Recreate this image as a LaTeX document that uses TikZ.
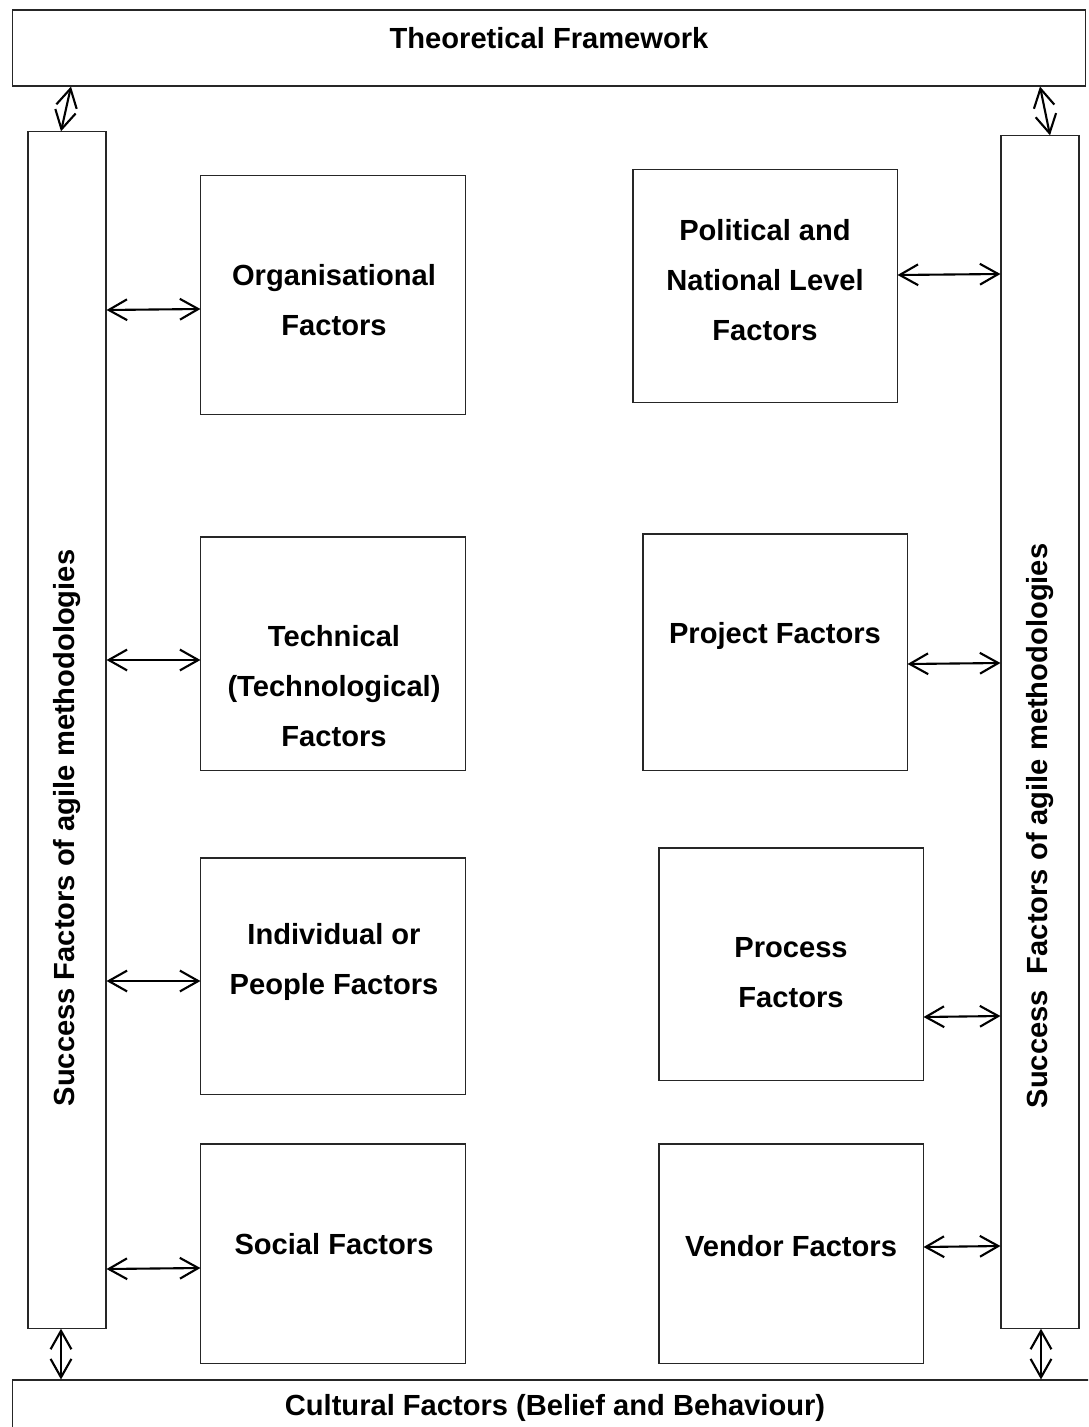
\documentclass[tikz,border=0pt]{standalone}
\usepackage{fontspec}
\setmainfont{Liberation Sans}
\usetikzlibrary{arrows.meta}
\usetikzlibrary{calc}

\begin{document}
\begin{tikzpicture}[x=0.025cm,y=-0.025cm,
        box/.style={draw=black!85,line width=0.75pt,inner sep=0,minimum width=6.6cm},
        bar/.style={draw=black!85,line width=0.75pt,inner sep=0,minimum width=1.95cm},
        lbl/.style={inner sep=0,align=center,font=\fontsize{20.7}{35.6}\selectfont\bfseries},
        arr/.style={{Straight Barb[length=4.6mm,width=5.2mm]}-{Straight Barb[length=4.6mm,width=5.2mm]},line width=1.5pt}]
        \useasboundingbox (0,0) rectangle (1088,1427);
        \clip (0,0) rectangle (1088,1427);
        % frame boxes
        \node[box,minimum width=26.8cm,minimum height=1.9cm] (top) at (549,48) {};
        \node[box,minimum width=27.5cm,minimum height=1.5cm] (bot) at (563,1410) {};
        \node[bar,minimum height=29.9cm] (lbar) at (67,730) {};
        \node[bar,minimum height=29.8cm] (rbar) at (1040,732) {};
        % factor boxes
        \node[box,minimum height=5.95cm]  (org)   at (333,295)    {};
        \node[box,minimum height=5.825cm] (tech)  at (333,653.5)  {};
        \node[box,minimum height=5.9cm]   (indiv) at (333,976)    {};
        \node[box,minimum height=5.475cm] (soc)   at (333,1253.5) {};
        \node[box,minimum height=5.8cm]   (pol)   at (765,286)    {};
        \node[box,minimum height=5.9cm]   (proj)  at (775,652)    {};
        \node[box,minimum height=5.8cm]   (proc)  at (791,964)    {};
        \node[box,minimum height=5.475cm] (vend)  at (791,1253.5) {};
        % texts
        \node[lbl] (top-t)   at (549,38)   {Theoretical Framework};
        \node[lbl] (bot-t)   at (555,1408) {Cultural Factors (Belief and Behaviour)};
        \node[lbl,rotate=90] (lbar-t) at (67,828)   {Success Factors of agile methodologies};
        \node[lbl,rotate=90] (rbar-t) at (1040,826) {Success\ \ Factors of agile methodologies};
        \node[lbl] (org-t)   at (334,300)  {Organisational\\Factors};
        \node[lbl] (tech-t)  at (334,686)  {Technical\\(Technological)\\Factors};
        \node[lbl] (indiv-t) at (334,962)  {Individual or\\People Factors};
        \node[lbl] (soc-t)   at (334,1244) {Social Factors};
        \node[lbl] (pol-t)   at (765,280)  {Political and\\National Level\\Factors};
        \node[lbl] (proj-t)  at (775,636)  {Project Factors};
        \node[lbl] (proc-t)  at (791,973)  {Process\\Factors};
        \node[lbl] (vend-t)  at (791,1246) {Vendor Factors};
        % arrows
        \draw[arr] (top.south -| 71,0) -- (lbar.north -| 61,0);
        \draw[arr] (top.south -| 1040,0) -- (rbar.north -| 1050,0);
        \draw[arr] (lbar.south -| 61,0) -- (bot.north -| 61,0);
        \draw[arr] (rbar.south -| 1041,0) -- (bot.north -| 1041,0);
        \draw[arr] (lbar.east |- 0,310) -- (org.west |- 0,309);
        \draw[arr] (lbar.east |- 0,660) -- (tech.west |- 0,660);
        \draw[arr] (lbar.east |- 0,981) -- (indiv.west |- 0,981);
        \draw[arr] (lbar.east |- 0,1269) -- (soc.west |- 0,1268);
        \draw[arr] (pol.east |- 0,275) -- (rbar.west |- 0,274);
        \draw[arr] (proj.east |- 0,664) -- (rbar.west |- 0,663);
        \draw[arr] (proc.east |- 0,1017) -- (rbar.west |- 0,1016);
        \draw[arr] (vend.east |- 0,1247) -- (rbar.west |- 0,1246);
\end{tikzpicture}
\end{document}
